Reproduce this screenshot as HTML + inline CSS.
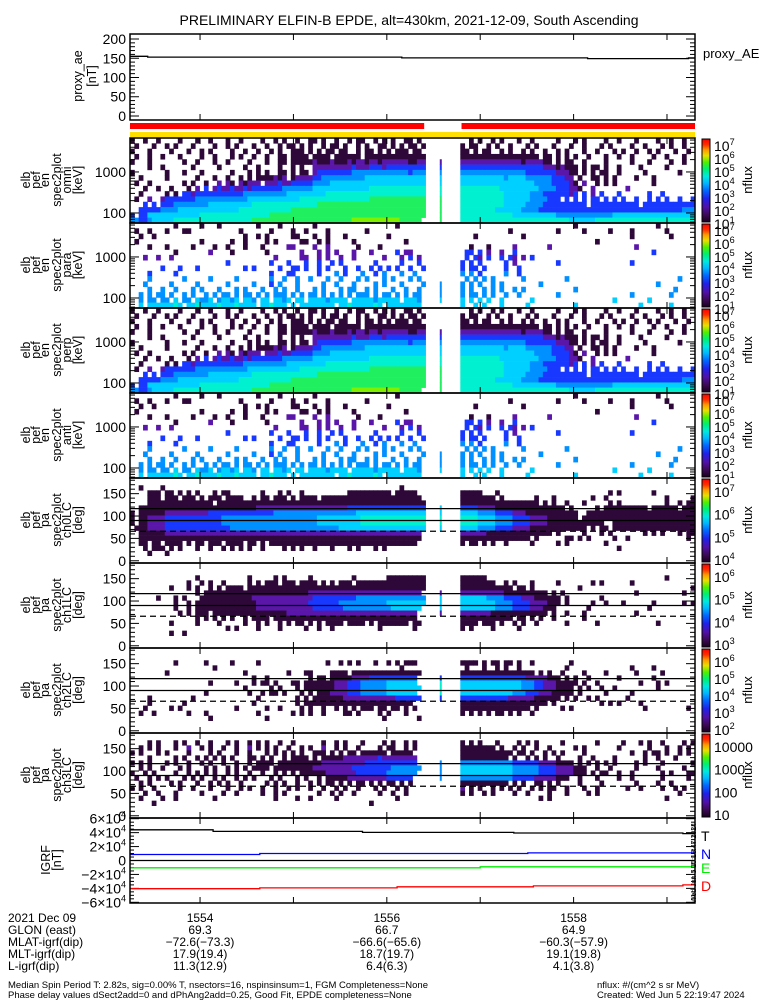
<!DOCTYPE html>
<html><head><meta charset="utf-8"><title>ELFIN-B EPDE</title>
<style>
html,body{margin:0;padding:0;background:#fff;}
svg{display:block;font-family:"Liberation Sans",sans-serif;}
text{fill:#000;}
</style></head>
<body>
<svg id="chart" width="775" height="1000" viewBox="0 0 775 1000" xmlns="http://www.w3.org/2000/svg">
<defs>
<linearGradient id="cbar" x1="0" y1="1" x2="0" y2="0">
<stop offset="0" stop-color="#1a0020"/><stop offset="0.08" stop-color="#3a0a50"/><stop offset="0.18" stop-color="#5010a8"/>
<stop offset="0.28" stop-color="#2020e8"/><stop offset="0.38" stop-color="#0068ff"/><stop offset="0.47" stop-color="#00b8ff"/>
<stop offset="0.55" stop-color="#00e8e0"/><stop offset="0.64" stop-color="#00f070"/><stop offset="0.72" stop-color="#50f000"/>
<stop offset="0.80" stop-color="#e8e000"/><stop offset="0.87" stop-color="#ff9800"/><stop offset="0.93" stop-color="#ff3000"/><stop offset="1" stop-color="#ff0000"/>
</linearGradient>
</defs>
<text x="409" y="25" font-size="14" text-anchor="middle">PRELIMINARY ELFIN-B EPDE, alt=430km, 2021-12-09, South Ascending</text>
<g id="layer"></g>
<g font-size="12">
<text x="8" y="922">2021 Dec 09</text>
<text x="8" y="934">GLON (east)</text>
<text x="8" y="946">MLAT-igrf(dip)</text>
<text x="8" y="958">MLT-igrf(dip)</text>
<text x="8" y="970">L-igrf(dip)</text>
</g>
<text x="8" y="988" font-size="9.5">Median Spin Period T: 2.82s, sig=0.00% T, nsectors=16, nspinsinsum=1, FGM Completeness=None</text>
<text x="8" y="998" font-size="9.5">Phase delay values dSect2add=0 and dPhAng2add=0.25, Good Fit, EPDE completeness=None</text>
<text x="597" y="988" font-size="9.5">nflux: #/(cm^2 s sr MeV)</text>
<text x="597" y="998" font-size="9.5">Created: Wed Jun  5 22:19:47 2024</text>
<text x="703" y="58" font-size="13">proxy_AE</text>
<text transform="translate(696,903) rotate(-90)" font-size="7">Wed Jun  5 15:18:47 2024</text>
</svg>
<script>
// ---------- data ----------
const timeTicks = [1554, 1555, 1556, 1557, 1558, 1559];
const timeTickLabels = ["1554", "", "1556", "", "1558", ""];
const glonVals = ["69.3", "", "66.7", "", "64.9", ""];
const mlatVals = ["-72.6(-73.3)", "", "-66.6(-65.6)", "", "-60.3(-57.9)", ""];
const mltVals = ["17.9(19.4)", "", "18.7(19.7)", "", "19.1(19.8)", ""];
const lVals = ["11.3(12.9)", "", "6.4(6.3)", "", "4.1(3.8)", ""];

const aeTimes = [1553.25, 1553.44, 1556.16, 1558.15, 1559.23];
const aeValues = [155, 153, 151, 149, 151];

const redBarStart = [1553.25, 1556.80];
const redBarEnd = [1556.40, 1559.30];

const igrfTTimes = [1553.25, 1554.14, 1555.74, 1557.36, 1559.17];
const igrfTValues = [44000, 41800, 40300, 39400, 38600];
const igrfNTimes = [1553.25, 1554.64, 1557.51];
const igrfNValues = [8600, 10000, 10900];
const igrfETimes = [1553.25, 1557.0];
const igrfEValues = [-10500, -9000];
const igrfDTimes = [1553.25, 1554.64, 1556.11, 1557.57, 1559.17];
const igrfDValues = [-40500, -39300, -37800, -36400, -35000];

const energyEdges = [57, 77, 103, 139, 188, 253, 341, 459, 619, 834, 1124, 1514, 2040, 2749, 3704, 4990, 6724];
const pitchEdges = [0, 11.25, 22.5, 33.75, 45, 56.25, 67.5, 78.75, 90, 101.25, 112.5, 123.75, 135, 146.25, 157.5, 168.75, 180];
const lossConeLines = [116.5, 90];
const lossConeDashed = [66];

// spectrogram rows, top row first: [pre-gap bins, gap column, post-gap bins]; '.' = no data, 0-9 = flux level
const omniRows = [
["0..0..0....0...0..0...0..0....0..0.0..0..00.0..0..0.00..0.0.0..00.0.", ".", "..0.0..0.0...0..0.....0...0.0....0..0...0....0..0..0.."],
[".0...0..0.0...0....0..0.0...0..0..0.00.0.0..0.00.0..0.0..00.0.0.00.0", ".", "0.00..0.0..0...0.0...0...0..0...0.0....0..0...0.0..0."],
["0...0....0...0..0.0....0..0..0..0.0..000.0.0.00.00..0.00.0.0.000.00.", ".", "00.0.00..0.0..0.0..0..0.0...0..0...0.0..0..0.0...0..0"],
[".0..0..0...0....0..0...0.0..0..0..00.0000.0000.000000.00000000000000", ".", "000000000000000000.00.0.0.0..0...0..0..0....0..0...0."],
["0...0.......0..0...0..0....0...0..00.00000100010001011011011111100111", "1", "111111111111110111100.0.00..0....0.....0...0....0..0.."],
["....0..0......0.....0.....0..0....0..0.0..111111111211122212222222222", "2", "222222222222222222211101000.0.00.0..0....0.....0....."],
["0.......0...0...0......0...0.0.0..00.0.00.122222222333333333333323333", "3", "333333333333333222222211100.0.0.00..0.....0.......0..."],
["..0.....0......0...0..0..0.0.0000101.011112233333333334444444444444444", "4", "44444444443444433333322211.0..00.0.0....0...0........."],
[".0..0.......0.0..0..1.10.10111.1112112222233334444444444444444444444", "4", "444444444444444443333222210.1..0.0.0........0........."],
["...0..0..0...0.1.2.12112112122222223333333444444444444455555555555555", "5", "5555555554444444443333222110..1.......1..............."],
["..0.....0.0.22122222222222333333333344444444455555555555555555555555", "5", "555555555544444433322222212.2.1.2...2......2..2......."],
[".0..1..1222222233333333333344444444444455555555555555556666666666666", "6", "55555555554444443333222.2.2.2.22.2.2.2..2..2.2.2..2..2"],
["...2.2.22233333333444444444455555555555555566666666666666666666666666", "6", "55555555554444433332222222222.22222222222.2222222222223"],
["..2222233334444444444444455555555555566666666666666666666666666666666", "6", "555555554444443333222222222222222222222222222222222333"],
["2.2244444444444455555555555555556666666666666666666666666666666666666", "6", "555555555555444444444433333333333334444444444444444444"],
["3322344444555555555555555555666666666666666666666667777777777766666", "6", "555555555555555555555555544444455555555555555555555555"]
];
const paraRows = [
["..........0.....0...0........0....0.......0..................0.....", ".", "..........................0..................0........"],
[".0..0...0...00...........0......0....0..0....0........0............", ".", "...........0..........0.....0.....0....0.......0......0"],
["..0..0....................0..0.0.....00...0..0...0.........0.......", ".", "...0..........0........................0........0....."],
[".0..............0......0..0....0.0.....00..0.0.....0...........0....", ".", "...............................0......................"],
["....0...0.....0....0..0...0...0.....11....1..1......0....0..........", ".", "..0...0.....1.......1...................1............."],
["..........0.......1....0.......0.......1...1.1.1...1...1.....2.11...", ".", ".22.2.1..1..2...............................2........."],
["...1..1..1.......................1.....11..1.1..1..1......1...1.2.1.", ".", ".2.21.2..2.21.1.2......................................"],
["......................2.........2...2...2..2..2.2.......2.....2...2.", ".", "2.2.2.....2.1.........2................2..............."],
[".......2...2...2..........2.2.....2..22.2..2.2...2..2..2.2.2.2..2..2", ".", "2.22.2....2..2.........................................2"],
["....2.....2.....................2...22.....2...3.2...3..2.3...3..3..", ".", "3.3.2.....3..2........................................."],
["....3.......3.....3.....3.......3..3..3..3...3..3...3.3...3.3...3.3.", ".", ".3.3.3.3......3.........3.........................3...."],
["...3.....3.....3......3.....3...2.3...3.....3..3...3....3.3...3....3", "3", "3.3.3..3.3........3..........................3........"],
["....3..3..3...3.3...3...3.3...3..3.3..3...3.3...3.33..3.3...3..3..3.", "3", "3.3..3.3.3..3.3...........3......................3....."],
["..3.3.33.3..3.3..3.3.33.3.33.3.3.333.3.3.33.3.3.3.3.333.3.33.3.3.33", "3", "3.33.3.3..3..3........3................3........3......"],
["..3.33.33.4.33.4334.34434.443.44.4434.44.444434444.44444344444.4443", "4", "4.4.4.4..4......4..................4.......4..........."],
["..4.44444454.4454444544454444.445444.4.44444444.4454444454.44444444", ".", "4..4.4...4.....4..........4..............4......4......"]
];
const perpRows = omniRows;
const antiRows = paraRows;
const ch0Rows = [
["", ".", ""],
["..0....0......................................................0....", ".", ""],
["....000.00.0.0.0...0.00.......0...0.0..0..........0000000000.00000.", ".", "00000...0.........................0.0.......0........."],
["....000.000.000.0.000.0000..0.00.000.0.0000.00000000000000000000000", ".", "00000000.0.......0...0........0..0.............0.....0"],
["....000000000000000.0000000000000000000000000000000000000000000000000", ".", "000000000000000000.0.0..0...0.....0.0..........0..0.000"],
["..000000000000000000000000000111111111111111111111222222222222222222", "4", "222211110000000000000000.0.....0.0000000000.000000.0000"],
["0.0000001111111111222222222222222333333333333333333344444444444444444", "4", "444433332222111000000000000..000000000000000000000000000"],
["0.0011112222222222222333333333333333333333344444444445555555555555555", "5", "555544443333222211110000000.00000000000000000000000000"],
["0.00111122222222222223333333333333333333333444444444455555555555555555", "5", "555544443333222211110000000000000..00000000000000000000"],
[".0001111222222222222222333333333333333333333333344444444444444444444", "4", "44443333222211110000000000000.0.00.0000000000000000000"],
["..00000011111111111111111111111111111111111111111111111111111111111", ".", "111111000000000000000.0.....0...0.0.......0.0.0...0.000"],
["..00000000000000000000000000000000000000000000000000000000000000000", ".", "0000000000000000.0......00.0.0.....0..0.............0.."],
["..00.00.0000.0.00.000.0000.00.0.0000000000000000000000000000000000.", ".", "0.00.0.0..0.....0.....0.0........0......................"],
["...0.000.0.0...0..0..0.0.0.0..0....0.0.0..0...0...0.0...0.0.......", ".", "....................................0.................."],
["....0...0...........................................................", ".", ""],
["", ".", ""]
];
const ch1Rows = [
["", ".", ""],
["", ".", ""],
["...............0...........0.....0.0.....0.........0.......0000000000", ".", "000000.........................................0......"],
[".............0..0.0..0.....0.0.000.000.0000.0.0.000.0000000000000000", ".", "00000000..0.0...0.....0.......0.0......0...............0"],
[".........0...0.0..0.0.0000.000000000000000000000000000000000000000000", ".", "000000000000.00.0..........0.........................0."],
["...............0.00000000000000000000000011111111111111111111111111", "1", "11111111110000000000.0.0................0..........0..."],
["......0...0.0...0000000000001111111111111122222222223333333333333333", "4", "44444433332222111000000.0.......0......................"],
["..........0..0.00000000000000111111111111222222233333333333444444444", "4", "44444444333322221111000.0.....0..0...0......0......0.0."],
["..........0..0.0000000000000011111111111112222222333333333334444444", "4", "4444444433332222111000.......0.............0..........."],
["...........0.0.000.00000000000000000111111111111111111111111111111", "1", "11111110000000000000.0..0...0...........0..............."],
["...............0.0.0.0.0..0.0000.000000000000000000000000000000000", ".", "000000000000.00.0.0..0......0.........................."],
[".........0.....0....0.....0..0.0..0.0.00.0.0.0000.0000.0.0000000.00", ".", "0000.000.0..0.0..0......0......0.............0........"],
["......................0.0....0....0.....0..0..0..........0.......0", ".", "0.0....0.....0........................................"],
[".........0..0.....................................................", ".", ""],
["", ".", ""],
["", ".", ""]
];
const ch2Rows = [
["", ".", ""],
["", ".", ""],
["..........0......0.....0.....0...............0..0.0.0...0..0.0.000.", ".", "0000.0.00.00.0..0........0............................"],
["...................0..........................................0....", ".", ".0...0..0.0..0..........0..............0....0.........."],
["........0.................0.........0...00....0000.0000000000000000", ".", "00000000000000000.0.0..0....0....0......0.....0........"],
["............................0..0.........0.00.00000111122222222222", "2", "22222222222222211111000.0.0..0......0.......0.........."],
["..................0.....0...0.00.0...00.00000001112223333334444444", "5", "444444444444443332211100000.0..0.........0...0.0......."],
["..........................0.....0.0...0.000000011122233333344444444", "5", "44444444444444333221110000.0.0..0..0.........0........."],
[".................0.........0..0.00.0...0.0.00011112223333334444444", "5", "44444444444433322211100000.0.....0.....0..............."],
["....0.........0..............0........0.0.0000000111111111111222222", "2", "22222222222111111000000.0.0..0.0......0...............0"],
["....0.......0...............0.........0.0000000000000000000000000", ".", "00000000000000000000.0..........0.0.0....0.............."],
["...0.....0.0............0......0..0....0.0..0..0.0.0.000.00.00.0.0", ".", "0000000000000000.0.....0.0................0.........0..."],
["..0..0.......0...0...........0.......0.0.0..0....00.0....0.0...0...", ".", "0.0.0.0.00.0.0..0......................................"],
["..................0............0..........................0.......0", ".", ""],
["", ".", ""],
["", ".", ""]
];
const ch3Rows = [
["", ".", ""],
["....0.0...0.0..0..0...0.0..0.0.0..0..0......0..0.0...0....0.0..0.0.", ".", "0.0.0...0....0.0.0.....0.......0.....0...0.0..0....0.0."],
["..0.0.0...0..1..0.0..0..0..1.0.0.0..0..0.0..1..0.0..0....0.00..0.0", ".", "00000000.0..0.0..0..0.....0.0.......0......0...0..0.0.."],
["0.0...0.0....0....0.0...0..0...0.0.0.0.0..000.0.0.00.000000.00000", ".", "000000000000.00.0..0.0.0....0..........0..0.00.0..0.0.0"],
["....0.....0.0..0.0.0.0.0...00.0.0..0.0000.0.0000011111111211111111", ".", "00000000000.0..0.0.0..0....0..0....0......0..0...0....0"],
["0.0.0...0.0..0..0.0..0..0..0.0000.00000000001111111111222222222222", "3", "33333333333322222211110000.0.0.0.0.0....0.0...0......0"],
["..0.0..0...0.0...0.0..0.0.0.0000.0000000001111111112222222223333333", "3", "44444444444433333322221111000..0..0.....0....0.....0..."],
["0..0.0....0..0.0.0.0..0.0..0..0..0.0.0.000000111111122222223333333", "3", "44444444444433333322221111000.0.00..0..0......0.0...00."],
[".0..0.0.0...0.0.0..0.0..0.0.0...0.0...0.0..0.00000111111111222222", "3", "3333333333332222211111000..0...0....0..0......0.....0.0"],
["..0.0....0.0...0..0.0.0..0.....0.0.0..0..0.0.00.0.0.00.0.0.00.0.0", ".", "00000000000.0.0..00.0.0....0....0.......0....0..0......"],
["0.0..0.....0..0...0...0..0.0..0..0..0.0..0..0..0.0..0...0.0..0.0..", ".", "1.0.0..0.0.0.0..0.0.00..0...0..0......0..0....0..0.0..."],
["...0..0...0.....0....0..0.....0..0.0.......0..0.0..0.....0..0..0...", ".", "0.0..0.0....0..0....0...0....0.0..................0...."],
["..0....0..0........0.............0....0..0.....0.............0.....", ".", "..................0.0..........................0......"],
[".....0.................................................0............", ".", ""],
["", ".", ""],
["", ".", ""]
];
const levelColors = ['#2e0838', '#5a16a8', '#1838ff', '#0090ff', '#00d0ff', '#00f0d0', '#20f060', '#80f000', '#f0d000', '#ff2000'];

// ---------- layout ----------
const NS = 'http://www.w3.org/2000/svg';
const svg = document.getElementById('layer');
const TMIN = 1553.25, TMAX = 1559.30, X0 = 130, X1 = 695;
const NB = 130, PRE = 68, GAP = 8, POST = 54;
function xOf(t) { return X0 + (t - TMIN) / (TMAX - TMIN) * (X1 - X0); }
function mk(tag, attrs, parent) {
  const e = document.createElementNS(NS, tag);
  for (const k in attrs) e.setAttribute(k, attrs[k]);
  (parent || svg).appendChild(e);
  return e;
}
function fit(s, n) { s = s || ''; return (s + '.'.repeat(n)).slice(0, n); }

function frameAndTimeTicks(top, h, g) {
  timeTicks.forEach(t => {
    const x = xOf(t);
    const a = mk('line', {x1: x, x2: x, y1: top, y2: top + 6, stroke: '#000', 'stroke-width': 1}, g);
    
    
    const b = mk('line', {x1: x, x2: x, y1: top + h, y2: top + h - 6, stroke: '#000', 'stroke-width': 1}, g);
    
    
  });
  const f = mk('rect', {x: X0, y: top, width: X1 - X0, height: h, fill: 'none', stroke: '#000', 'stroke-width': 1.5}, g);
  
  
}
function yTick(g, y, len, label, fs) {
  const a = mk('line', {x1: X0, x2: X0 + len, y1: y, y2: y, stroke: '#000', 'stroke-width': 1}, g);
  
  
  const b = mk('line', {x1: X1, x2: X1 - len, y1: y, y2: y, stroke: '#000', 'stroke-width': 1}, g);
  
  
  if (label !== null && label !== undefined) {
    const t = mk('text', {x: 126, y: y + 5, 'text-anchor': 'end', 'font-size': fs || 14}, g);
    t.textContent = label;
    
    
  }
}
function sideLabel(g, lines, xs, cy) {
  lines.forEach((s, i) => {
    const t = mk('text', {transform: `translate(${xs[i]},${cy}) rotate(-90)`, 'text-anchor': 'middle', 'font-size': 12.5}, g);
    t.textContent = s;
    
    
  });
}
function sup(parent, x, y, base, exp, fs) {
  const t = mk('text', {x: x, y: y, 'font-size': fs}, parent);
  
  
  const a = document.createElementNS(NS, 'tspan'); a.textContent = base; t.appendChild(a);
  if (exp) { const b = document.createElementNS(NS, 'tspan'); b.setAttribute('dy', -6); b.setAttribute('font-size', fs * 0.65); b.textContent = exp; t.appendChild(b); }
}
function colorbar(top, labels, g) {
  const r = mk('rect', {x: 702, y: top + 1, width: 8, height: 83, fill: 'url(#cbar)', stroke: '#000', 'stroke-width': 1}, g);
  
  
  const n = labels.length;
  labels.forEach((l, i) => {
    const y = top + 8 + i * (78 / Math.max(n - 1, 1));
    sup(g, 714, y + 5, l[0], l[1], 14);
  });
  const t = mk('text', {transform: `translate(752,${top + 42}) rotate(-90)`, 'text-anchor': 'middle', 'font-size': 13}, g);
  t.textContent = 'nflux';
  
  
}
function drawSpec(rows, top, edges, yFn, g) {
  const dt = (TMAX - TMIN) / NB;
  rows.forEach((r, ri) => {
    const s = fit(r[0], PRE) + '...' + (r[1] || '.') + '....' + fit(r[2], POST);
    const lo = edges[edges.length - 2 - ri], hi = edges[edges.length - 1 - ri];
    const y1 = yFn(hi, top), y2 = yFn(lo, top);
    for (let c = 0; c < NB; c++) {
      const ch = s[c];
      if (ch < '0' || ch > '9') continue;
      let x = xOf(TMIN + c * dt), w = xOf(TMIN + (c + 1) * dt) - x + 0.4;
      if (c === PRE + 3) { x += 1.2; w = 2; }
      const cell = mk('rect', {x: x.toFixed(2), y: y1.toFixed(2), width: w.toFixed(2), height: (y2 - y1 + 0.3).toFixed(2), fill: levelColors[+ch]}, g);
      
      
    }
  });
}
const LTOP = Math.log10(energyEdges[energyEdges.length - 1]), LBOT = Math.log10(energyEdges[0]);
function yE(e, top) { return top + 85 * (LTOP - Math.log10(e)) / (LTOP - LBOT); }
function yP(p, top) { return top + 85 * (185 - p) / 190; }

const energyPanels = [
  {rows: omniRows, name: 'omni', top: 138},
  {rows: paraRows, name: 'para', top: 223},
  {rows: perpRows, name: 'perp', top: 308},
  {rows: antiRows, name: 'anti', top: 393}
];
const fluxLabels7 = [['10', '7'], ['10', '6'], ['10', '5'], ['10', '4'], ['10', '3'], ['10', '2'], ['10', '1']];
energyPanels.forEach(p => {
  const g = mk('g', {});
  
  
  drawSpec(p.rows, p.top, energyEdges, yE, g);
  for (let k = 1; k <= 3; k++) for (let m = 1; m <= 9; m++) {
    const e = m * Math.pow(10, k);
    if (e < energyEdges[0] || e > energyEdges[energyEdges.length - 1]) continue;
    yTick(g, yE(e, p.top), m === 1 ? 9 : 5, m === 1 ? String(e) : null, 14);
  }
  frameAndTimeTicks(p.top, 85, g);
  sideLabel(g, ['elb', 'pef', 'en', 'spec2plot', p.name, '[keV]'], [30, 40, 49, 61, 71, 82], p.top + 42);
  colorbar(p.top, fluxLabels7, g);
});

const pitchPanels = [
  {rows: ch0Rows, name: 'ch0LC', top: 478, cb: [['10', '7'], ['10', '6'], ['10', '5'], ['10', '4']]},
  {rows: ch1Rows, name: 'ch1LC', top: 563, cb: [['10', '6'], ['10', '5'], ['10', '4'], ['10', '3']]},
  {rows: ch2Rows, name: 'ch2LC', top: 648, cb: [['10', '6'], ['10', '5'], ['10', '4'], ['10', '3'], ['10', '2']]},
  {rows: ch3Rows, name: 'ch3LC', top: 733, cb: [['10000', ''], ['1000', ''], ['100', ''], ['10', '']]}
];
pitchPanels.forEach(p => {
  const g = mk('g', {});
  
  
  drawSpec(p.rows, p.top, pitchEdges, yP, g);
  lossConeLines.forEach(v => {
    const l = mk('line', {x1: X0, x2: X1, y1: yP(v, p.top), y2: yP(v, p.top), stroke: '#000', 'stroke-width': 1.2}, g);
    
    
  });
  lossConeDashed.forEach(v => {
    const l = mk('line', {x1: X0, x2: X1, y1: yP(v, p.top), y2: yP(v, p.top), stroke: '#000', 'stroke-width': 1.2, 'stroke-dasharray': '6,4'}, g);
    
    
  });
  for (let v = 0; v <= 180; v += 10) yTick(g, yP(v, p.top), v % 50 === 0 ? 9 : 5, v % 50 === 0 ? String(v) : null, 14);
  frameAndTimeTicks(p.top, 85, g);
  sideLabel(g, ['elb', 'pef', 'pa', 'spec2plot', p.name, '[deg]'], [30, 40, 49, 61, 71, 82], p.top + 42);
  const cg = mk('g', {}, g);
  
  
  const r = mk('rect', {x: 702, y: p.top + 1, width: 8, height: 83, fill: 'url(#cbar)', stroke: '#000', 'stroke-width': 1}, cg);
  
  
  p.cb.forEach((l, i) => { sup(cg, 714, p.top + 14 + i * (68 / (p.cb.length - 1)) + 5, l[0], l[1], 14); });
  const t = mk('text', {transform: `translate(752,${p.top + 42}) rotate(-90)`, 'text-anchor': 'middle', 'font-size': 13}, cg);
  t.textContent = 'nflux';
  
  
});

// ---------- proxy AE ----------
(function () {
  const top = 34, h = 86, vMin = -10.4, vMax = 213;
  const yA = v => top + h * (vMax - v) / (vMax - vMin);
  const g = mk('g', {});
  
  
  for (let v = 0; v <= 200; v += 10) yTick(g, yA(v), v % 50 === 0 ? 9 : 5, v % 50 === 0 ? String(v) : null, 14);
  let d = '';
  aeTimes.forEach((t, i) => {
    const x1 = xOf(t), x2 = xOf(i + 1 < aeTimes.length ? aeTimes[i + 1] : TMAX), y = yA(aeValues[i]);
    d += (i === 0 ? 'M' : 'L') + x1.toFixed(1) + ',' + y.toFixed(1) + 'L' + x2.toFixed(1) + ',' + y.toFixed(1);
  });
  const line = mk('path', {d: d, fill: 'none', stroke: '#000', 'stroke-width': 1.3}, g);
  
  
  frameAndTimeTicks(top, h, g);
  sideLabel(g, ['proxy_ae', '[nT]'], [82, 96], top + 42);
  redBarStart.forEach((s, i) => {
    const r = mk('rect', {x: xOf(s), y: 123, width: xOf(redBarEnd[i]) - xOf(s), height: 6, fill: '#ff0000'});
    
    
  });
  const yb = mk('rect', {x: X0, y: 132, width: X1 - X0, height: 5, fill: '#ffe000'});
  
  
})();

// ---------- IGRF ----------
(function () {
  const top = 818, h = 85, vMin = -61000, vMax = 61000;
  const yI = v => top + h * (vMax - v) / (vMax - vMin);
  const g = mk('g', {});
  
  
  for (let v = -60000; v <= 60000; v += 5000) yTick(g, yI(v), v % 20000 === 0 ? 9 : 4, null);
  [60000, 40000, 20000, 0, -20000, -40000, -60000].forEach(v => {
    const y = yI(v) + 5;
    if (v === 0) {
      const t = mk('text', {x: 126, y: y, 'text-anchor': 'end', 'font-size': 14}, g);
      t.textContent = '0';
      
      
    } else {
      const t = mk('text', {x: 126, y: y, 'text-anchor': 'end', 'font-size': 14}, g);
      
      
      const a = document.createElementNS(NS, 'tspan'); a.textContent = (v < 0 ? '\u2212' : '') + Math.abs(v / 10000) + '\u00d710'; t.appendChild(a);
      const b = document.createElementNS(NS, 'tspan'); b.setAttribute('dy', -6); b.setAttribute('font-size', 9); b.textContent = '4'; t.appendChild(b);
    }
  });
  const zl = mk('line', {x1: X0, x2: X1, y1: yI(0), y2: yI(0), stroke: '#000', 'stroke-width': 1.2}, g);
  
  
  const series = [
    {times: igrfTTimes, vals: igrfTValues, color: '#000', name: 'igrf-t-line'},
    {times: igrfNTimes, vals: igrfNValues, color: '#0000ff', name: 'igrf-n-line'},
    {times: igrfETimes, vals: igrfEValues, color: '#00ee00', name: 'igrf-e-line'},
    {times: igrfDTimes, vals: igrfDValues, color: '#ff0000', name: 'igrf-d-line'}
  ];
  series.forEach(s => {
    let d = '';
    s.times.forEach((t, i) => {
      const x1 = xOf(t), x2 = xOf(i + 1 < s.times.length ? s.times[i + 1] : TMAX), y = yI(s.vals[i]);
      d += (i === 0 ? 'M' : 'L') + x1.toFixed(1) + ',' + y.toFixed(1) + 'L' + x2.toFixed(1) + ',' + y.toFixed(1);
    });
    const p = mk('path', {d: d, fill: 'none', stroke: s.color, 'stroke-width': 1.3}, g);
    
    
  });
  frameAndTimeTicks(top, h, g);
  sideLabel(g, ['IGRF', '[nT]'], [50, 61], top + 42);
  [['T', '#000', 836], ['N', '#0000ff', 854], ['E', '#00ee00', 868], ['D', '#ff0000', 886]].forEach(l => {
    const t = mk('text', {x: 701, y: l[2] + 5, 'font-size': 14, fill: l[1]}, g);
    t.setAttribute('style', 'fill:' + l[1]);
    t.textContent = l[0];
    
    
  });
})();

// ---------- time axis annotations ----------
timeTicks.forEach((t, i) => {
  const x = xOf(t);
  [[timeTickLabels[i], 922], [glonVals[i], 934], [mlatVals[i], 946], [mltVals[i], 958], [lVals[i], 970]].forEach(r => {
    if (!r[0]) return;
    const e = mk('text', {x: x, y: r[1], 'text-anchor': 'middle', 'font-size': 12});
    e.textContent = r[0].replace(/-/g, '\u2212');
    
    
  });
});
</script>
</body></html>
